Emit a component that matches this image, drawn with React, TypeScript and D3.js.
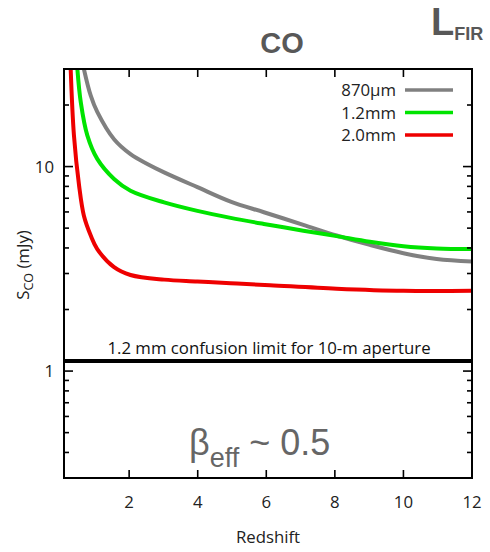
import React, { useEffect, useRef } from 'react';
import * as d3 from 'd3';

// redshift / flux pairs (mJy)
const z870 = [0.68, 0.88, 1.07, 1.56, 2.04, 2.53, 3.02, 3.99, 4.96, 5.93, 7.08, 8.05, 9.02, 10, 10.97, 12];
const s870 = [30, 22.2, 18.5, 13.6, 11.5, 10.3, 9.37, 7.93, 6.74, 5.98, 5.19, 4.6, 4.14, 3.77, 3.53, 3.43];

const z12 = [0.49, 0.59, 0.78, 1.07, 1.56, 2.04, 3.02, 3.99, 4.96, 5.93, 7.08, 8.05, 9.02, 10, 10.97, 12];
const s12 = [30, 20.6, 14.2, 10.9, 8.7, 7.62, 6.68, 6.07, 5.61, 5.24, 4.86, 4.57, 4.29, 4.08, 3.98, 3.95];

const z20 = [0.295, 0.39, 0.54, 0.68, 0.88, 1.07, 1.56, 2.04, 3.02, 3.99, 4.96, 6.11, 8.05, 10, 12];
const s20 = [30, 14.2, 8.07, 5.75, 4.6, 3.95, 3.22, 2.95, 2.8, 2.745, 2.69, 2.63, 2.53, 2.47, 2.47];

const seriesNames = ['870µm', '1.2mm', '2.0mm'];
const seriesColors = ['#808080', '#00e400', '#ee0000'];

const xTicks = [2, 4, 6, 8, 10, 12];
const yMajor = [1, 10];
const yMinor = [0.4, 0.5, 0.6, 0.7, 0.8, 0.9, 2, 3, 4, 5, 6, 7, 8, 9, 20];
const confusionLimit = 1.12;

const W = 490;
const H = 552;
const left = 64, right = 472, top = 69, bottom = 478;

const App = () => {
  const ref = useRef<SVGSVGElement>(null);

  useEffect(() => {
    const svg = d3.select(ref.current);
    svg.selectAll('*').remove();

    const x = d3.scaleLinear().domain([0.1, 12]).range([left, right]);
    const y = d3.scaleLog().domain([0.3, 30]).range([bottom, top]);

    svg.append('defs').append('clipPath').attr('id', 'plot-clip')
      .append('rect').attr('x', left).attr('y', top)
      .attr('width', right - left).attr('height', bottom - top);

    // curves
    const line = d3.line<[number, number]>()
      .x((d) => x(d[0]))
      .y((d) => y(d[1]))
      .curve(d3.curveCatmullRom.alpha(0.5));

    const series = [
      d3.zip(z870, s870),
      d3.zip(z12, s12),
      d3.zip(z20, s20),
    ] as [number, number][][];

    const g = svg.append('g').attr('clip-path', 'url(#plot-clip)');
    series.forEach((pts, i) => {
      g.append('path')
        .attr('d', line(pts))
        .attr('fill', 'none')
        .attr('stroke', seriesColors[i])
        .attr('stroke-width', 4);
    });

    // confusion limit
    svg.append('line')
      .attr('x1', left).attr('x2', right)
      .attr('y1', y(confusionLimit)).attr('y2', y(confusionLimit))
      .attr('stroke', '#000').attr('stroke-width', 4);

    svg.append('text')
      .attr('x', (left + right) / 2 + 1).attr('y', y(confusionLimit) - 7)
      .attr('text-anchor', 'middle')
      .attr('font-family', 'Open Sans')
      .attr('font-size', 16.8)
      .attr('fill', '#111')
      .text('1.2 mm confusion limit for 10-m aperture');

    // frame
    svg.append('rect')
      .attr('x', left).attr('y', top)
      .attr('width', right - left).attr('height', bottom - top)
      .attr('fill', 'none').attr('stroke', '#000').attr('stroke-width', 2);

    const ticks = svg.append('g').attr('stroke', '#000').attr('stroke-width', 1.6);
    xTicks.filter((t) => t < 12).forEach((t) => {
      ticks.append('line').attr('x1', x(t)).attr('x2', x(t)).attr('y1', bottom).attr('y2', bottom - 8);
      ticks.append('line').attr('x1', x(t)).attr('x2', x(t)).attr('y1', top).attr('y2', top + 8);
    });
    yMajor.forEach((t) => {
      ticks.append('line').attr('x1', left).attr('x2', left + 9).attr('y1', y(t)).attr('y2', y(t));
      ticks.append('line').attr('x1', right).attr('x2', right - 9).attr('y1', y(t)).attr('y2', y(t));
    });
    yMinor.forEach((t) => {
      ticks.append('line').attr('x1', left).attr('x2', left + 5).attr('y1', y(t)).attr('y2', y(t));
      ticks.append('line').attr('x1', right).attr('x2', right - 5).attr('y1', y(t)).attr('y2', y(t));
    });

    const labels = svg.append('g')
      .attr('font-family', 'Open Sans')
      .attr('font-size', 16.8)
      .attr('fill', '#222');
    xTicks.forEach((t) => {
      labels.append('text').attr('x', x(t)).attr('y', 508)
        .attr('text-anchor', 'middle').text(t);
    });
    yMajor.forEach((t) => {
      labels.append('text').attr('x', 54).attr('y', y(t) + 6)
        .attr('text-anchor', 'end').text(t);
    });

    labels.append('text')
      .attr('x', (left + right) / 2).attr('y', 543)
      .attr('text-anchor', 'middle').text('Redshift');

    const yl = labels.append('text')
      .attr('transform', `translate(29, 265) rotate(-90)`)
      .attr('text-anchor', 'middle');
    yl.append('tspan').text('S');
    yl.append('tspan').attr('font-size', 12.5).attr('dy', 4).text('CO');
    yl.append('tspan').attr('dy', -4).text(' (mJy)');

    // legend
    seriesNames.forEach((name, i) => {
      const ly = 90 + i * 22.5;
      labels.append('text').attr('x', 396).attr('y', ly + 6)
        .attr('text-anchor', 'end').text(name);
      svg.append('line').attr('x1', 405).attr('x2', 453)
        .attr('y1', ly).attr('y2', ly)
        .attr('stroke', seriesColors[i]).attr('stroke-width', 3.5);
    });

    // titles
    svg.append('text')
      .attr('x', 282).attr('y', 53)
      .attr('text-anchor', 'middle')
      .attr('font-family', 'Liberation Sans')
      .attr('font-weight', 'bold')
      .attr('font-size', 29)
      .attr('fill', '#585858')
      .text('CO');

    const lf = svg.append('text')
      .attr('x', 431).attr('y', 35)
      .attr('font-family', 'Liberation Sans')
      .attr('font-weight', 'bold')
      .attr('font-size', 38)
      .attr('fill', '#585858');
    lf.append('tspan').text('L');
    lf.append('tspan').attr('font-size', 18).attr('dy', 5).text('FIR');

    const beta = svg.append('text')
      .attr('x', 189).attr('y', 455)
      .attr('font-family', 'Liberation Sans')
      .attr('font-size', 36)
      .attr('fill', '#666');
    beta.append('tspan').text('β');
    beta.append('tspan').attr('font-size', 27).attr('dy', 12).text('eff');
    beta.append('tspan').attr('dy', -12).text(' ~ 0.5');
  }, []);

  return (
    <svg
      ref={ref}
      width={W}
      height={H}
      style={{ position: 'absolute', left: 0, top: 0, background: '#fff' }}
    />
  );
};

export default App;
